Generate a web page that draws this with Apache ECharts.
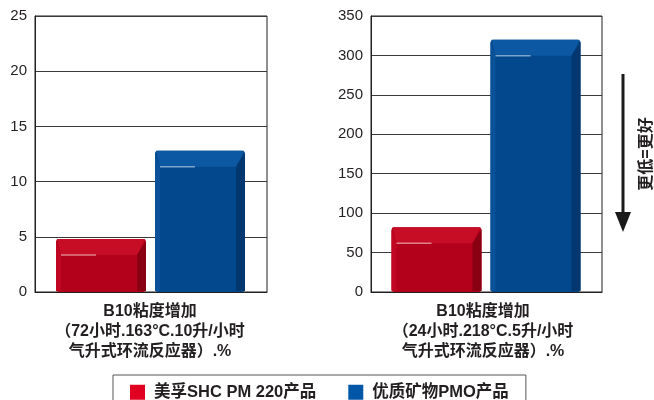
<!DOCTYPE html>
<html><head><meta charset="utf-8">
<script src="https://cdn.jsdelivr.net/npm/echarts@6/dist/echarts.min.js"></script>
<style>html,body{margin:0;padding:0;background:#fff}#c{width:654px;height:400px}</style>
</head><body><div id="c"></div>
<script>
const seriesNames = ['美孚SHC PM 220产品', '优质矿物PMO产品'];
const leftValues = [4.8, 12.8];
const rightValues = [82, 320];
const leftTicks = {min: 0, max: 25, interval: 5};
const rightTicks = {min: 0, max: 350, interval: 50};
const leftCaption = ['B10粘度增加', '（72小时.163°C.10升/小时', '气升式环流反应器）.%'];
const rightCaption = ['B10粘度增加', '（24小时.218°C.5升/小时', '气升式环流反应器）.%'];
const noteText = '更低=更好';

const FONT = '"Liberation Sans", "Noto Sans CJK SC", sans-serif';
const palettes = [
  {main: '#b3001b', top: '#c70c26', right: '#8a0013', left: '#c00621', glint: '#e8a0a8', legend: '#e1001f'},
  {main: '#03488c', top: '#0c58a2', right: '#02376f', left: '#0a5198', glint: '#9ab8d8', legend: '#0057a8'}
];
const BAR_W = 90, OFFS = [-50, 49];

const chart = echarts.init(document.getElementById('c'));
function yAxis(idx, t) {
  return {type: 'value', gridIndex: idx, min: t.min, max: t.max, interval: t.interval,
    axisLine: {show: true, lineStyle: {color: '#231f20', width: 1}},
    axisTick: {show: false},
    axisLabel: {color: '#231f20', fontSize: 15, fontFamily: FONT, margin: 8},
    splitLine: {lineStyle: {color: '#3a3a3a', width: 1}}};
}
function xAxis(idx) {
  return {type: 'category', gridIndex: idx, data: [''],
    axisLine: {show: true, lineStyle: {color: '#231f20'}}, axisTick: {show: false}, axisLabel: {show: false}};
}
function renderBevel(k) {
  const p = palettes[k];
  return function (params, api) {
    const base = api.coord([api.value(0), 0]);
    const top = api.coord([api.value(0), api.value(1)]);
    const x0 = base[0] + OFFS[k] - BAR_W / 2, x1 = x0 + BAR_W;
    const y0 = top[1], y1 = base[1];
    const b = Math.min(16, (y1 - y0) / 2);
    return {type: 'group', children: [
      {type: 'rect', shape: {x: x0, y: y0, width: BAR_W, height: y1 - y0, r: 3}, style: {fill: p.main}},
      {type: 'polygon', shape: {points: [[x0 + 1, y0], [x1 - 1, y0], [x1 - 9, y0 + b], [x0 + 5, y0 + b]]}, style: {fill: p.top}},
      {type: 'polygon', shape: {points: [[x1, y0 + 2], [x1, y1 - 1], [x1 - 9, y1 - 1], [x1 - 9, y0 + b]]}, style: {fill: p.right}},
      {type: 'polygon', shape: {points: [[x0, y0 + 2], [x0 + 5, y0 + b], [x0 + 5, y1 - 1], [x0, y1 - 1]]}, style: {fill: p.left}},
      {type: 'line', shape: {x1: x0 + 5, y1: y0 + b, x2: x0 + 40, y2: y0 + b}, style: {stroke: p.glint, lineWidth: 1.5, opacity: 0.8}}
    ]};
  };
}
const series = [];
[leftValues, rightValues].forEach((vals, g) => {
  vals.forEach((v, i) => {
    series.push({name: seriesNames[i], type: 'custom', xAxisIndex: g, yAxisIndex: g,
      data: [[0, v]], renderItem: renderBevel(i), clip: false,
      itemStyle: {color: palettes[i].legend}, emphasis: {disabled: true}});
  });
});
function caption(lines, cx) {
  return lines.map((t, k) => ({type: 'text', x: cx, y: 312 + k * 20,
    style: {text: t, font: 'bold 16px ' + FONT, fill: '#231f20', textAlign: 'center', textVerticalAlign: 'middle'}}));
}
chart.setOption({
  animation: false,
  grid: [
    {left: 35, top: 16, width: 232, height: 276, show: true, borderColor: '#231f20', borderWidth: 1},
    {left: 371, top: 16, width: 231, height: 276, show: true, borderColor: '#231f20', borderWidth: 1}
  ],
  xAxis: [xAxis(0), xAxis(1)],
  yAxis: [yAxis(0, leftTicks), yAxis(1, rightTicks)],
  legend: {data: seriesNames.map((n, i) => ({name: n, itemStyle: {color: palettes[i].legend}})),
    left: 113, top: 375, icon: 'rect', itemWidth: 15, itemHeight: 15, itemGap: 32,
    padding: [9, 17, 12, 17], borderColor: '#555', borderWidth: 1,
    textStyle: {fontSize: 16.5, fontWeight: 'bold', color: '#231f20', fontFamily: FONT, padding: [0, 0, 0, 4]}},
  series: series,
  graphic: [
    ...caption(leftCaption, 150),
    ...caption(rightCaption, 483),
    {type: 'rect', shape: {x: 621.5, y: 74, width: 3, height: 142}, style: {fill: '#1a1a1a'}},
    {type: 'polygon', shape: {points: [[615, 212], [631, 212], [623, 232]]}, style: {fill: '#1a1a1a'}},
    {type: 'text', x: 647, y: 154, rotation: Math.PI / 2,
      style: {text: noteText, font: 'bold 16px ' + FONT, fill: '#231f20', textAlign: 'center', textVerticalAlign: 'middle'}}
  ]
});
</script></body></html>
